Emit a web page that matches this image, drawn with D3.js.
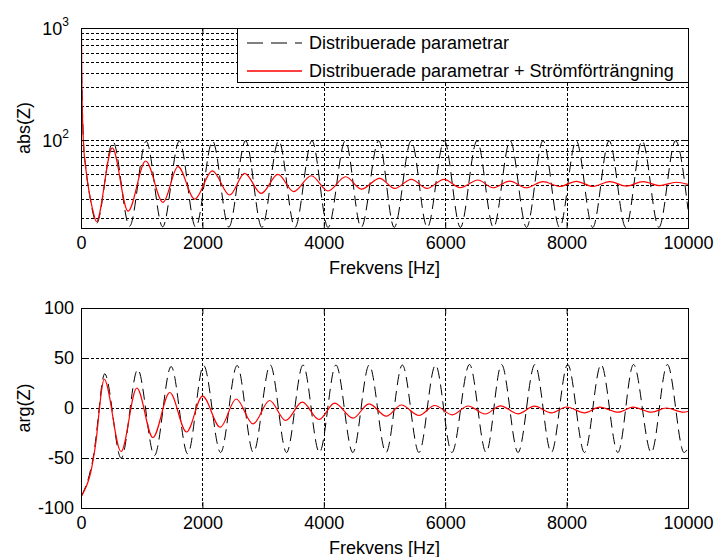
<!DOCTYPE html>
<html><head><meta charset="utf-8">
<script src="https://cdn.jsdelivr.net/npm/d3@7"></script>
<style>
body{margin:0;background:#fff;}
svg text{font-family:"Liberation Sans",Arial,Helvetica,sans-serif;fill:#000;}
</style></head><body>
<svg id="c" width="718" height="557"></svg>
<script>
// ---------- DATA ----------
const freqTicks = [0, 2000, 4000, 6000, 8000, 10000];
const freqTickLabels = ["0", "2000", "4000", "6000", "8000", "10000"];
const magTicks = [100, 1000];
const magTickExponents = ["2", "3"];
const magGrid = [20, 30, 40, 50, 60, 70, 80, 90, 100, 200, 300, 400, 500, 600, 700, 800, 900];
const phaseTicks = [-100, -50, 0, 50, 100];
const phaseTickLabels = ["-100", "-50", "0", "50", "100"];
const seriesNames = ["Distribuerade parametrar", "Distribuerade parametrar + Strömförträngning"];
const xLabel = "Frekvens [Hz]";
const magLabel = "abs(Z)";
const phaseLabel = "arg(Z)";

// Series A: Distribuerade parametrar (black dashed) - magnitude
const magFreqA = [10, 38, 80, 140, 200, 255,
  527, 800, 1074, 1345, 1620, 1890, 2168, 2435, 2712, 2980, 3258, 3525, 3805, 4070,
  4355, 4615, 4905, 5160, 5440, 5705, 5985, 6250, 6525, 6795, 7070, 7340, 7612, 7885,
  8158, 8430, 8700, 8975, 9245, 9520, 9795, 10000];
const magA = [400, 105, 56, 33, 22, 18,
  96.5, 17.0, 97.5, 16.8, 98, 16.7, 98, 16.7, 98.5, 16.6, 98.5, 16.6, 98.5, 16.6,
  98.5, 16.6, 98.5, 16.6, 98.5, 16.6, 98.5, 16.6, 98.5, 16.6, 98.5, 16.6, 98.5, 16.6,
  98.5, 16.6, 98.5, 16.6, 98.5, 16.6, 98.5, 24];

// Series B: + Strömförträngning (red) - magnitude
const magFreqB = [1, 15, 38, 80, 140, 200, 253,
  516, 775, 1066, 1351, 1598, 1873, 2164, 2449, 2696, 2970, 3245, 3503, 3794, 4069,
  4360, 4618, 4920, 5168, 5442, 5700, 5980, 6249, 6540, 6787, 7063, 7336, 7611, 7886,
  8160, 8435, 8710, 8984, 9259, 9534, 9807, 10000];
const magB = [3000, 300, 100, 55, 33, 23, 18.7,
  85, 23.2, 65, 27.8, 57.8, 29.7, 53, 32.3, 50.4, 33.4, 49.3, 34.6, 48, 35.1,
  47, 36.5, 45.5, 37, 44.6, 37, 44.6, 37.5, 44, 37.5, 43, 37.5, 42.5, 38.5,
  42.8, 38.5, 42.5, 38.8, 42.5, 39.2, 42, 40.2];

// Series A - phase
const phaseFreqA = [10, 60, 115, 165, 200, 250, 300, 345, 390,
  662, 935, 1210, 1485, 1758, 2020, 2300, 2572, 2840, 3118, 3386, 3658, 3928, 4200,
  4478, 4748, 5025, 5294, 5568, 5840, 6110, 6400, 6675, 6928, 7200, 7478, 7748, 8018,
  8295, 8568, 8845, 9102, 9395, 9660, 9935, 10000];
const phaseA = [-88, -81, -72, -60, -50, -28, 0, 24, 34.2,
  -50.2, 38.5, -47.5, 41.5, -45.8, 42.5, -44.5, 42.5, -44.5, 43, -44.5, 43, -44.5, 43,
  -44.5, 43, -44.5, 43, -44.5, 43, -44.5, 43.5, -44.5, 43.5, -44.5, 43.5, -44.5, 43.5,
  -44.5, 43.5, -44.5, 43.5, -44.5, 43.5, -44.5, -40];

// Series B - phase
const phaseFreqB = [0, 60, 115, 165, 200, 250, 300, 340, 380,
  660, 920, 1184, 1463, 1738, 2002, 2295, 2556, 2834, 3108, 3370, 3646, 3921, 4179,
  4481, 4745, 5030, 5277, 5568, 5827, 6117, 6376, 6660, 6910, 7200, 7470, 7748, 8000,
  8297, 8545, 8850, 9094, 9400, 9643, 9930, 10000];
const phaseB = [-89, -82, -74, -63, -52, -32, -3, 18, 29,
  -43.5, 20, -29.5, 15.5, -24, 11.8, -19.2, 9, -15.8, 7.5, -12.5, 5.8, -11.5, 4.8,
  -10.2, 4.2, -8.2, 3, -7.5, 2.5, -6.8, 2, -6, 2.2, -5.8, 1.8, -4.8, 1,
  -4.8, 0.8, -4.2, 0.8, -4.2, 0, -4.2, -3.5];

// ---------- LAYOUT ----------
const W = 718, H = 557;
const L = 81, R = 688;
const top1 = 28, bot1 = 228, top2 = 308, bot2 = 508;
const FS = 18;

const svg = d3.select("#c");
svg.append("rect").attr("width", W).attr("height", H).attr("fill", "#fff");
const defs = svg.append("defs");

const x = d3.scaleLinear().domain([0, 10000]).range([L, R]);
const yMag = d3.scaleLog().domain([16.4, 1000]).range([bot1, top1]);
const yPh = d3.scaleLinear().domain([-100, 100]).range([bot2, top2]);

function panel(id, y, top, bot, gridVals, series) {
  defs.append("clipPath").attr("id", id).append("rect")
    .attr("x", L).attr("y", top).attr("width", R - L).attr("height", bot - top);
  const g = svg.append("g");
  const grid = g.append("g").attr("stroke", "#000").attr("stroke-width", 1)
    .attr("stroke-dasharray", "3,2").attr("shape-rendering", "crispEdges");
  freqTicks.filter(d => d > 0 && d < 10000).forEach(d => {
    grid.append("line").attr("x1", Math.round(x(d)) + 0.5).attr("x2", Math.round(x(d)) + 0.5)
      .attr("y1", top).attr("y2", bot);
  });
  gridVals.forEach(d => {
    const yy = Math.round(y(d)) + 0.5;
    grid.append("line").attr("x1", L).attr("x2", R).attr("y1", yy).attr("y2", yy);
  });
  const cg = g.append("g").attr("clip-path", `url(#${id})`);
  series.forEach(s => {
    const line = d3.line().x(d => x(d[0])).y(d => y(d[1])).curve(d3.curveMonotoneX);
    cg.append("path").datum(d3.zip(s.f, s.v)).attr("d", line)
      .attr("fill", "none").attr("stroke", s.color).attr("stroke-width", s.w)
      .attr("stroke-dasharray", s.dash || null);
  });
  return g;
}

const magSeries = [
  {f: magFreqA, v: magA, color: "#000000", w: 1, dash: "11,6"},
  {f: magFreqB, v: magB, color: "#ff0000", w: 1.2}
];
const phSeries = [
  {f: phaseFreqA, v: phaseA, color: "#000000", w: 1, dash: "11,6"},
  {f: phaseFreqB, v: phaseB, color: "#ff0000", w: 1.2}
];

panel("clipMag", yMag, top1, bot1, magGrid.filter(d => d < 1000), magSeries);
panel("clipPh", yPh, top2, bot2, [-50, 0, 50], phSeries);

function xAxes(top, bot) {
  svg.append("g").attr("transform", `translate(0,${bot})`)
    .call(d3.axisBottom(x).tickValues(freqTicks).tickFormat((d, i) => freqTickLabels[i])
      .tickSizeInner(-6).tickSizeOuter(0).tickPadding(8))
    .call(a => { a.select(".domain").remove(); a.selectAll("text").attr("font-size", FS).attr("font-family", null); a.selectAll("line").attr("stroke", "#000"); });
  svg.append("g").attr("transform", `translate(0,${top})`)
    .call(d3.axisTop(x).tickValues(freqTicks).tickFormat("").tickSizeInner(-6).tickSizeOuter(0))
    .call(a => { a.select(".domain").remove(); a.selectAll("line").attr("stroke", "#000"); });
}
xAxes(top1, bot1);
xAxes(top2, bot2);

svg.append("g").attr("transform", `translate(${L},0)`)
  .call(d3.axisLeft(yMag).tickValues(magTicks).tickFormat("").tickSizeInner(-6).tickSizeOuter(0))
  .call(a => { a.select(".domain").remove(); a.selectAll("line").attr("stroke", "#000"); });
svg.append("g").attr("transform", `translate(${R},0)`)
  .call(d3.axisRight(yMag).tickValues(magTicks).tickFormat("").tickSizeInner(-6).tickSizeOuter(0))
  .call(a => { a.select(".domain").remove(); a.selectAll("line").attr("stroke", "#000"); });
magTicks.forEach((d, i) => {
  const t = svg.append("text").attr("x", L - 12).attr("y", yMag(d) + 6.5)
    .attr("text-anchor", "end").attr("font-size", FS);
  t.append("tspan").text("10");
  t.append("tspan").attr("dy", -9).attr("font-size", 12).text(magTickExponents[i]);
});

svg.append("g").attr("transform", `translate(${L},0)`)
  .call(d3.axisLeft(yPh).tickValues(phaseTicks).tickFormat((d, i) => phaseTickLabels[i])
    .tickSizeInner(-6).tickSizeOuter(0).tickPadding(7))
  .call(a => { a.select(".domain").remove(); a.selectAll("text").attr("font-size", FS).attr("font-family", null); a.selectAll("line").attr("stroke", "#000"); });
svg.append("g").attr("transform", `translate(${R},0)`)
  .call(d3.axisRight(yPh).tickValues(phaseTicks).tickFormat("").tickSizeInner(-6).tickSizeOuter(0))
  .call(a => { a.select(".domain").remove(); a.selectAll("line").attr("stroke", "#000"); });

[[top1, bot1], [top2, bot2]].forEach(([t, b]) => {
  svg.append("rect").attr("x", L + 0.5).attr("y", t + 0.5).attr("width", R - L).attr("height", b - t)
    .attr("fill", "none").attr("stroke", "#000").attr("stroke-width", 1).attr("shape-rendering", "crispEdges");
});

svg.append("text").attr("x", (L + R) / 2).attr("y", 274).attr("text-anchor", "middle").attr("font-size", FS).text(xLabel);
svg.append("text").attr("x", (L + R) / 2).attr("y", 554).attr("text-anchor", "middle").attr("font-size", FS).text(xLabel);
svg.append("text").attr("transform", `translate(30,${(top1 + bot1) / 2}) rotate(-90)`).attr("text-anchor", "middle").attr("font-size", FS).text(magLabel);
svg.append("text").attr("transform", `translate(30,${(top2 + bot2) / 2}) rotate(-90)`).attr("text-anchor", "middle").attr("font-size", FS).text(phaseLabel);

// legend
const lg = svg.append("g");
lg.append("rect").attr("x", 237.5).attr("y", top1 + 0.5).attr("width", R - 237).attr("height", 54)
  .attr("fill", "#fff").attr("stroke", "#000").attr("stroke-width", 1).attr("shape-rendering", "crispEdges");
const legendRows = [43, 71];
magSeries.forEach((s, i) => {
  lg.append("line").attr("x1", 247).attr("x2", 302).attr("y1", legendRows[i]).attr("y2", legendRows[i])
    .style("stroke", s.color).style("stroke-width", s.dash ? 1 : 1.5)
    .style("stroke-dasharray", s.dash ? "16,8" : "none");
  lg.append("text").attr("x", 309).attr("y", legendRows[i] + 6).attr("font-size", FS).text(seriesNames[i]);
});
</script>
</body></html>
